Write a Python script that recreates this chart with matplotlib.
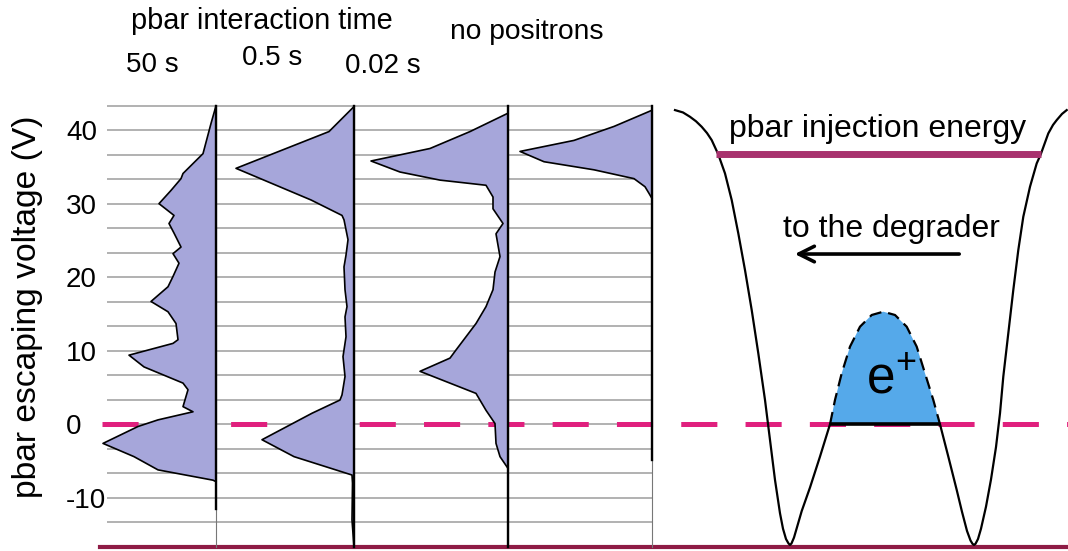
import numpy as np
import matplotlib
matplotlib.use('Agg')
import matplotlib.pyplot as plt

plt.rcParams['font.family'] = ['Liberation Sans', 'DejaVu Sans']
plt.rcParams['lines.scale_dashes'] = False

# histograms: pbar escaping voltage (V) vs counts (arb. units)
v_50s = [43.3, 40.9, 36.8, 34.1, 33.4, 31.8, 30.0, 28.4, 27.3, 26.0, 24.1, 23.2, 21.9, 20.1,
         18.7, 16.7, 15.3, 13.7, 11.5, 11.0, 9.4, 7.8, 5.6, 4.7, 2.4, 1.7, 0.6, -0.3, -2.6,
         -4.4, -6.2, -7.6, -7.8]
n_50s = [0, 5, 13, 33, 35, 45, 57, 42, 47, 42, 35, 43, 37, 43,
         48, 65, 48, 40, 38, 43, 87, 72, 33, 28, 33, 23, 58, 78, 113,
         82, 58, 3, 0]

v_05s = [43.2, 39.8, 34.8, 30.5, 28.4, 27.8, 25.1, 23.0, 21.4, 18.3, 16.0, 14.6, 11.9, 9.2,
         6.5, 4.0, 3.3, 1.5, -2.1, -4.4, -6.9, -8.0, -13.0, -16.7]
n_05s = [0, 25, 118, 43, 12, 10, 6, 8, 10, 9, 7, 9, 8, 11,
         9, 12, 14, 42, 92, 60, 2, 1.5, 2, 0]

v_002s = [42.3, 39.8, 37.5, 35.8, 34.3, 33.2, 32.5, 30.9, 29.3, 27.3, 25.9, 22.8, 20.7, 18.3,
          16.0, 13.7, 10.1, 9.0, 7.2, 4.2, 1.9, 0.1, -2.6, -4.4, -6.0]
n_002s = [0, 38, 78, 137, 108, 68, 22, 15, 15, 5, 12, 8, 13, 15,
          22, 32, 52, 58, 88, 32, 22, 13, 12, 8, 0]

v_none = [42.7, 40.5, 38.6, 37.1, 35.7, 34.6, 33.4, 32.3, 31.4, 30.7]
n_none = [0, 38, 78, 132, 108, 58, 18, 7, 3, 0]

panel_titles = ['50 s', '0.5 s', '0.02 s']
yticks = [-10, 0, 10, 20, 30, 40]
grid_v = np.arange(-50, 131, 10) / 3.0

# potential well sketch (position, V)
well_left_z = [25, 33, 40, 46, 51.7, 57, 61.7, 68.3, 75, 81.7, 88.3, 95, 101.7, 108.3, 115, 120,
               125, 130, 133, 136, 138.5, 140, 141.5, 144, 147, 151.7, 160, 170, 180]
well_left_v = [42.72, 42.4, 41.81, 41.2, 40.45, 39.6, 38.64, 36.69, 34.11, 30.49, 25.96, 20.97,
               15.54, 9.65, 3.31, -2.13, -7.57, -12.10, -14.2, -15.6, -16.2, -16.40, -16.2,
               -15.4, -14.0, -11.8, -8.6, -4.39, 0]
well_right_z = [290, 298.3, 306.7, 312, 317, 320.5, 322.5, 324, 325.5, 328, 331, 336, 341,
                346, 350, 353.3, 358.3, 363.3, 368.3, 373.3, 380, 386.7, 390.7, 398.3, 403,
                406.7, 412, 416.7]
well_right_v = [0, -4.39, -8.92, -11.9, -14.5, -15.8, -16.25, -16.40, -16.25, -15.6, -14.2,
                -11.2, -7.5, -3.1, 1.5, 6.48, 12.37, 18.26, 23.69, 28.22, 32.30, 35.47, 36.69,
                39.55, 40.7, 41.36, 42.2, 42.72]
cloud_z = [180, 185, 191.7, 200, 210, 221.7, 233.3, 245, 256.7, 266.7, 275, 283.3, 290]
cloud_v = [0, 3.31, 6.93, 10.56, 13.27, 14.86, 15.31, 14.86, 13.27, 10.56, 6.93, 3.31, 0]
injection_v = 36.7

W, H = 1068, 551
V_BOT, V_TOP = -17.23, 57.69
lav = '#a6a6da'
magenta = '#e0207e'

fig = plt.figure(figsize=(W / 100, H / 100), dpi=100)

# background: grid, dashed zero line, bottom line
bg = fig.add_axes([0, 0, 1, 1])
bg.set_xlim(0, W)
bg.set_ylim(V_BOT, V_TOP)
bg.axis('off')
bg.hlines(grid_v, 107, 652, color='#a4a4a4', lw=1.2)
bg.plot([101.7, W], [0, 0], color=magenta, lw=3.6, dashes=(26, 20.3), solid_capstyle='butt',
        dash_capstyle='butt')
bg.plot([100, W], [-16.67, -16.67], color='#8e1b45', lw=3, zorder=5)

# histogram panels
lefts = [107, 216, 354, 508]
bases = [216, 354, 508, 652]
profiles = [(v_50s, n_50s), (v_05s, n_05s), (v_002s, n_002s), (v_none, n_none)]
black_to = [-11.5, -16.7, -16.7, -4.8]
axes = []
for (v, n), left, base, bt in zip(profiles, lefts, bases, black_to):
    ax = fig.add_axes([left / W, 0, (base - left) / W, 1])
    ax.set_xlim(-(base - left), 0)
    ax.set_ylim(V_BOT, V_TOP)
    ax.patch.set_visible(False)
    for s in ax.spines.values():
        s.set_visible(False)
    ax.set_xticks([])
    ax.set_yticks([])
    x = -np.array(n, dtype=float)
    ax.fill_betweenx(v, x, 0, facecolor=lav, edgecolor='none', clip_on=False)
    ax.plot(x, v, color='black', lw=1.2, clip_on=False)
    ax.plot([0, 0], [-16.7, 43.33], color='#777777', lw=0.8, clip_on=False)
    ax.plot([0, 0], [bt, 43.33], color='black', lw=1.7, clip_on=False)
    axes.append(ax)

ax1 = axes[0]
ax1.set_yticks(yticks)
ax1.set_yticklabels([str(t) for t in yticks], fontsize=20)
ax1.tick_params(axis='y', length=0, pad=29.5)
for lab in ax1.get_yticklabels():
    lab.set_horizontalalignment('left')
ax1.set_ylabel('pbar escaping voltage (V)', fontsize=24.2)
ax1.yaxis.set_label_coords((43 - 107) / 109, (551 - 307) / 551)

# headers
fig.text(262 / W, 1 - 29 / H, 'pbar interaction time', fontsize=20.8, ha='center', va='baseline')
fig.text(527 / W, 1 - 39 / H, 'no positrons', fontsize=20.3, ha='center', va='baseline')
for t, xc, yb in zip(panel_titles, [152, 272, 383], [72, 65, 73]):
    fig.text(xc / W, 1 - yb / H, t, fontsize=20, ha='center', va='baseline')

# potential well
aw = fig.add_axes([650 / W, 0, 418 / W, 1])
aw.set_xlim(0, 418)
aw.set_ylim(V_BOT, V_TOP)
aw.axis('off')
aw.fill_between(cloud_z, cloud_v, 0, facecolor='#55a9ea', edgecolor='none')
aw.plot(cloud_z, cloud_v, color='black', lw=1.6, dashes=(9, 5))
aw.plot([cloud_z[0], cloud_z[-1]], [0, 0], color='black', lw=2.6, solid_capstyle='butt')
aw.plot(well_left_z, well_left_v, color='black', lw=1.6)
aw.plot(well_right_z, well_right_v, color='black', lw=1.6)
aw.plot([66, 391], [injection_v, injection_v], color='#a8326e', lw=5, solid_capstyle='butt')
aw.text(227.5, 39.06, 'pbar injection energy', fontsize=23, ha='center', va='baseline')
aw.text(241, 25.46, 'to the degrader', fontsize=23, ha='center', va='baseline')
aw.annotate('', xy=(142, 23.15), xytext=(312, 23.15),
            arrowprops=dict(arrowstyle='->', lw=2.6, color='black', mutation_scale=28))
aw.text(216, 4.12, r'$\mathregular{e^{+}}$', fontsize=37, ha='left', va='baseline')

fig.savefig('out.png', dpi=100)
